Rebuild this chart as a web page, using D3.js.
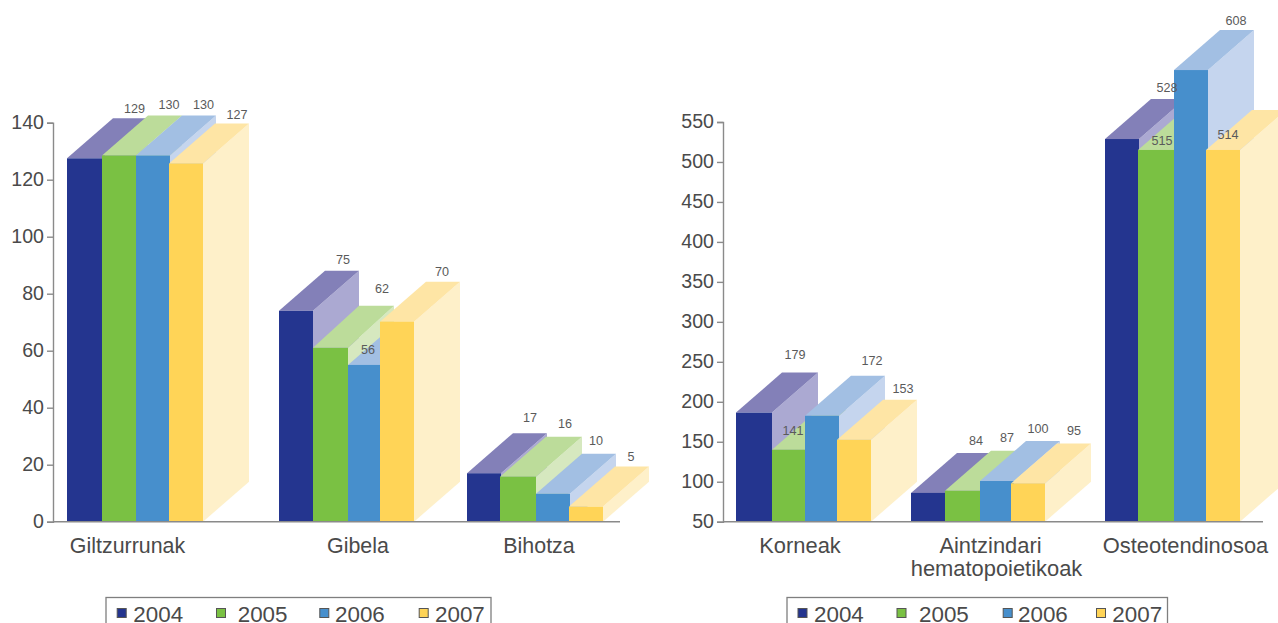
<!DOCTYPE html>
<html><head><meta charset="utf-8">
<script src="https://cdnjs.cloudflare.com/ajax/libs/d3/7.8.5/d3.min.js"></script>
<style>html,body{margin:0;padding:0;background:#fff;overflow:hidden}svg{display:block}
text{font-family:"Liberation Sans",Arial,sans-serif}</style></head><body>
<script>
const years = ["2004","2005","2006","2007"];
const leftCategories = ["Giltzurrunak","Gibela","Bihotza"];
const rightCategories = ["Korneak","Aintzindari\nhematopoietikoak","Osteotendinosoa"];
// printed labels
const leftLabels = [[129,130,130,127],[75,62,56,70],[17,16,10,5]];
const rightLabels = [[179,141,172,153],[84,87,100,95],[528,515,608,514]];
// bar heights as drawn, on each axis
const leftHeights = [[127.5,128.5,128.5,125.7],[74,61,55,70.2],[17,15.8,9.8,5.3]];
const rightHeights = [[186.5,140,182.5,152.5],[86,88.7,100.9,97.9],[528.7,515,615,515]];
const leftTicks = [0,20,40,60,80,100,120,140];
const rightTicks = [50,100,150,200,250,300,350,400,450,500,550];

// layout
const W=1278,H=623,depthX=46,depthY=40,minBar=34;
const front=["#24358f","#7ac143","#478fcc","#ffd457"];
const top_=["#8380b8","#bcdc9a","#a2bfe3","#fee5a5"];
const side=["#aba9d2","#d6e8bf","#c5d5ee","#fef0c9"];
const layouts={
 left:{domain:[0,140],range:[521.7,122.7],axisX:53,baseEnd:620,catSize:21.4,
  edges:[[67,102,136,169,203],[279,313,348,380,414],[467,500,536,569,603]],
  catX:[[127.5],[358],[539]],tallDepth:{c:1,s:1,dy:42},
  off:[[[67.5,-50],[67,-51],[67.5,-51],[68,-49]],[[64,-51],[69,-59],[20,-15],[62,-50]],[[63,-56],[65,-53],[60,-53],[62,-50]]],
  legend:{x:106,w:385,sw:[116.7,216,319.3,418.7],tx:[133.3,237.7,335,435]}},
 right:{domain:[50,550],range:[521.7,122],axisX:723,baseEnd:1263,catSize:21.9,
  edges:[[736,772,805,837,871],[911,945,980,1011,1045],[1105,1138,1174,1206,1240]],
  catX:[[800],[990.5,996.5],[1185.5]],tallDepth:null,
  off:[[[59,-58],[21,-19],[67,-55],[66,-51]],[[65,-52],[62,-53],[58,-52],[63,-53]],[[62,-51],[24,-9],[62,-49],[22,-15]]],
  legend:{x:787,w:380.5,sw:[797.5,896.5,1002.7,1096],tx:[814,919,1018,1112.3]}}
};
const svg=d3.select("body").append("svg").attr("width",W).attr("height",H);

function chart(cats,heights,labels,ticks,L){
  const y=d3.scaleLinear().domain(L.domain).range(L.range);
  const g=svg.append("g");
  // bars
  const labelLayer=[];
  heights.forEach((row,c)=>{
    const x=d3.scaleOrdinal().domain(d3.range(5)).range(L.edges[c]);
    row.forEach((v,s)=>{
      const x0=x(s),x1=x0+Math.max(minBar,x(s+1)-x0),yt=y(v),yb=y(L.domain[0]);
      const dy=(L.tallDepth&&L.tallDepth.c===c&&L.tallDepth.s===s)?L.tallDepth.dy:depthY;
      const b=g.append("g");
      b.append("polygon").attr("fill",side[s]).attr("points",[[x1,yt],[x1+depthX,yt-dy],[x1+depthX,yb-dy],[x1,yb]].join(" "));
      b.append("polygon").attr("fill",top_[s]).attr("points",[[x0,yt],[x0+depthX,yt-dy],[x1+depthX,yt-dy],[x1,yt]].join(" "));
      b.append("rect").attr("x",x0).attr("y",yt).attr("width",x1-x0).attr("height",yb-yt).attr("fill",front[s]);
      labelLayer.push({t:labels[c][s],x:x0+L.off[c][s][0],y:yt+L.off[c][s][1]});
    });
  });
  // axis
  const ax=g.append("g").attr("transform",`translate(${L.axisX},0)`)
    .call(d3.axisLeft(y).tickValues(ticks).tickSize(6).tickPadding(3).tickFormat(d3.format("d")));
  ax.selectAll("path,line").attr("stroke","#8a8a8a").attr("stroke-width",1.4);
  ax.selectAll("text").attr("font-size",19.6).attr("fill","#4a4a4a").attr("dy","0.3em");
  g.append("line").attr("x1",L.axisX).attr("x2",L.baseEnd).attr("y1",L.range[0]).attr("y2",L.range[0]).attr("stroke","#8a8a8a").attr("stroke-width",1.6);
  // value labels
  g.selectAll("text.val").data(labelLayer).join("text").attr("class","val")
    .attr("x",d=>d.x).attr("y",d=>d.y).attr("dy","0.35em").attr("text-anchor","middle")
    .attr("font-size",12.6).attr("fill","#5a5a5a").text(d=>d.t);
  // categories
  cats.forEach((name,i)=>{
    name.split("\n").forEach((ln,j)=>{
      g.append("text").attr("x",L.catX[i][j]).attr("y",552.8+j*23.5).attr("text-anchor","middle")
       .attr("font-size",L.catSize).attr("fill","#4a4a4a").text(ln);
    });
  });
  // legend
  const lg=L.legend;
  g.append("rect").attr("x",lg.x).attr("y",597.5).attr("width",lg.w).attr("height",40).attr("fill","none").attr("stroke","#7f7f7f").attr("stroke-width",1.3);
  years.forEach((yr,i)=>{
    g.append("rect").attr("x",lg.sw[i]+.5).attr("y",608.5).attr("width",9).attr("height",9).attr("fill",front[i]).attr("stroke","#555").attr("stroke-width",1);
    g.append("text").attr("x",lg.tx[i]).attr("y",622).attr("font-size",22.4).attr("fill","#4a4a4a").text(yr);
  });
}
chart(leftCategories,leftHeights,leftLabels,leftTicks,layouts.left);
chart(rightCategories,rightHeights,rightLabels,rightTicks,layouts.right);
</script></body></html>
